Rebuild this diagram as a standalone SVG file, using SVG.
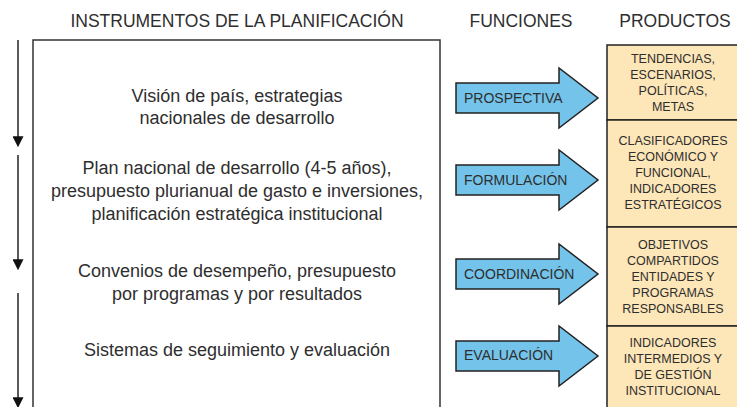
<svg xmlns="http://www.w3.org/2000/svg" width="737" height="407" viewBox="0 0 737 407">
<defs>
<style>
text{font-family:"Liberation Sans",Arial,sans-serif;fill:#2e2e2e}
.hdr{font-size:17.5px;text-anchor:middle}
.body{font-size:18px;text-anchor:middle}
.fn{font-size:14px}
.prod{font-size:12.5px;text-anchor:middle}
.arrow{fill:#74C3EA;stroke:#222;stroke-width:1.5;stroke-linejoin:miter}
.prodbox{fill:#FDE6B8;stroke:#222;stroke-width:1.5}
.conn{stroke:#222;stroke-width:1.5;fill:none}
</style>
<marker id="ah" viewBox="0 0 10 10" refX="7" refY="5" markerWidth="11" markerHeight="11" markerUnits="userSpaceOnUse" orient="auto">
<path d="M0,0 L10,5 L0,10 z" fill="#111"/>
</marker>
</defs>
<rect width="737" height="407" fill="#fff"/>
<g id="headers">
<text class="hdr" x="237" y="26.5">INSTRUMENTOS DE LA PLANIFICACIÓN</text>
<text class="hdr" x="521" y="26.5">FUNCIONES</text>
<text class="hdr" x="675" y="26.5">PRODUCTOS</text>
</g>
<g id="connectors">
<line class="conn" x1="18" y1="40" x2="18" y2="144" marker-end="url(#ah)"/>
<line class="conn" x1="18" y1="155" x2="18" y2="267" marker-end="url(#ah)"/>
<line class="conn" x1="18" y1="293" x2="18" y2="405" marker-end="url(#ah)"/>
</g>
<g id="instrumentos">
<rect x="33" y="40" width="407" height="380" fill="#fff" stroke="#333" stroke-width="1.5"/>
<text class="body" x="237" y="102">Visión de país, estrategias</text>
<text class="body" x="237" y="124">nacionales de desarrollo</text>
<text class="body" x="237" y="174">Plan nacional de desarrollo (4-5 años),</text>
<text class="body" x="237" y="197">presupuesto plurianual de gasto e inversiones,</text>
<text class="body" x="237" y="220">planificación estratégica institucional</text>
<text class="body" x="237" y="277">Convenios de desempeño, presupuesto</text>
<text class="body" x="237" y="300">por programas y por resultados</text>
<text class="body" x="237" y="356">Sistemas de seguimiento y evaluación</text>
</g>
<g id="fn-prospectiva">
<path class="arrow" d="M456,83 H559 V68 L598,98 L559,128 V113 H456 Z"/>
<text class="fn" x="464" y="103">PROSPECTIVA</text>
</g>
<g id="fn-formulacion">
<path class="arrow" d="M456,165 H559 V150 L598,180 L559,210 V195 H456 Z"/>
<text class="fn" x="464" y="185">FORMULACIÓN</text>
</g>
<g id="fn-coordinacion">
<path class="arrow" d="M456,259 H559 V244 L598,274 L559,304 V289 H456 Z"/>
<text class="fn" x="464" y="279">COORDINACIÓN</text>
</g>
<g id="fn-evaluacion">
<path class="arrow" d="M456,341 H559 V326 L598,356 L559,386 V371 H456 Z"/>
<text class="fn" x="464" y="360">EVALUACIÓN</text>
</g>
<g id="prod-1">
<rect class="prodbox" x="607" y="45" width="140" height="75"/>
<text class="prod" x="673" y="62.5">TENDENCIAS,</text>
<text class="prod" x="673" y="78.5">ESCENARIOS,</text>
<text class="prod" x="673" y="94.5">POLÍTICAS,</text>
<text class="prod" x="673" y="110.5">METAS</text>
</g>
<g id="prod-2">
<rect class="prodbox" x="607" y="120" width="140" height="107"/>
<text class="prod" x="673" y="145">CLASIFICADORES</text>
<text class="prod" x="673" y="161">ECONÓMICO Y</text>
<text class="prod" x="673" y="177">FUNCIONAL,</text>
<text class="prod" x="673" y="193">INDICADORES</text>
<text class="prod" x="673" y="209">ESTRATÉGICOS</text>
</g>
<g id="prod-3">
<rect class="prodbox" x="607" y="227" width="140" height="99"/>
<text class="prod" x="673" y="248.5">OBJETIVOS</text>
<text class="prod" x="673" y="264.5">COMPARTIDOS</text>
<text class="prod" x="673" y="280.5">ENTIDADES Y</text>
<text class="prod" x="673" y="296.5">PROGRAMAS</text>
<text class="prod" x="673" y="312.5">RESPONSABLES</text>
</g>
<g id="prod-4">
<rect class="prodbox" x="607" y="326" width="140" height="95"/>
<text class="prod" x="673" y="347">INDICADORES</text>
<text class="prod" x="673" y="363">INTERMEDIOS Y</text>
<text class="prod" x="673" y="379">DE GESTIÓN</text>
<text class="prod" x="673" y="395">INSTITUCIONAL</text>
</g>
</svg>
